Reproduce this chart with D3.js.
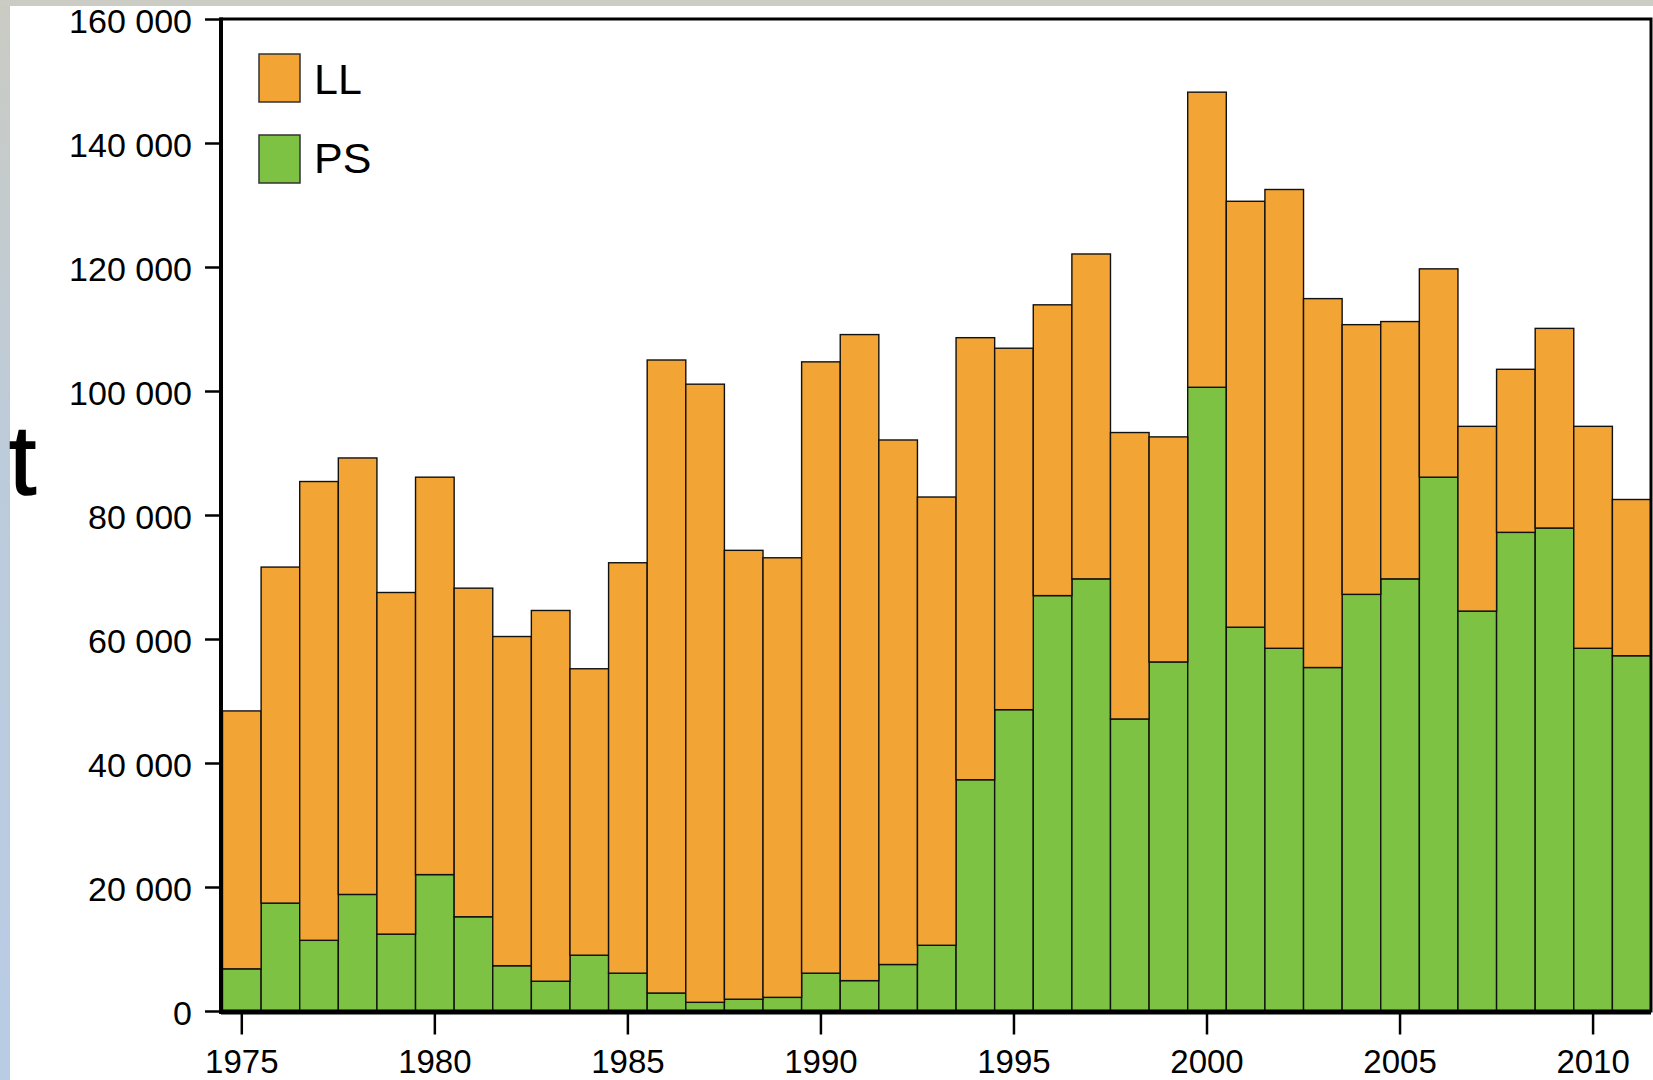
<!DOCTYPE html>
<html lang="en">
<head>
    <meta charset="UTF-8">
    <title>Captures LL / PS</title>
    <script src="https://d3js.org/d3.v7.min.js"></script>
    <style>
        body, html {
            margin: 0;
            background: #fff;
            font-family: "Liberation Sans", Arial, sans-serif;
        }
        svg { display: block; }
    </style>
</head>
<body>
<svg width="1653" height="1080"></svg>
<script>
    // annees et series (tonnes)
    const years = d3.range(1975, 2012);
    const totals = [48400, 71600, 85400, 89200, 67500, 86100, 68200, 60400, 64600, 55200,
                    72300, 105000, 101100, 74300, 73100, 104700, 109100, 92100, 82900, 108600,
                    106900, 113900, 122100, 93300, 92600, 148200, 130600, 132500, 114900, 110700,
                    111200, 119700, 94300, 103500, 110100, 94300, 82500];
    const ps = [6800, 17400, 11400, 18800, 12400, 22000, 15200, 7300, 4800, 9000,
                6100, 2900, 1400, 1900, 2200, 6100, 4900, 7500, 10600, 37300,
                48600, 67000, 69700, 47100, 56300, 100600, 61900, 58500, 55400, 67200,
                69700, 86100, 64500, 77200, 77900, 58500, 57300];
    const ll = totals.map((t, i) => t - ps[i]);
    const seriesNames = ["PS", "LL"];
    const colors = { LL: "#f2a535", PS: "#7dc242" };
    const yTicks = [0, 20000, 40000, 60000, 80000, 100000, 120000, 140000, 160000];
    const xTicks = [1975, 1980, 1985, 1990, 1995, 2000, 2005, 2010];

    const svg = d3.select("svg");

    // bandeaux du cadre (gris en haut, degrade a gauche)
    const defs = svg.append("defs");
    const grad = defs.append("linearGradient").attr("id", "side").attr("x1", 0).attr("y1", 0).attr("x2", 0).attr("y2", 1);
    grad.append("stop").attr("offset", "0%").attr("stop-color", "#cacbc3");
    grad.append("stop").attr("offset", "45%").attr("stop-color", "#bccbdc");
    grad.append("stop").attr("offset", "100%").attr("stop-color", "#b8cce4");
    svg.append("rect").attr("x", 0).attr("y", 0).attr("width", 10).attr("height", 1080).attr("fill", "url(#side)");
    svg.append("rect").attr("x", 0).attr("y", 0).attr("width", 1653).attr("height", 6).attr("fill", "#cbccc4");

    const mLeft = 221, mRight = 1651, mTop = 19, mBottom = 1011;

    const x = d3.scaleBand().domain(years).range([mLeft + 1.5, mRight]).padding(0);
    const y = d3.scaleLinear().domain([0, 160000]).range([mBottom, mTop]);

    const table = years.map((yr, i) => ({ year: yr, LL: ll[i], PS: ps[i] }));
    const stack = d3.stack().keys(seriesNames)(table);

    svg.append("g")
       .selectAll("g")
       .data(stack)
       .enter().append("g")
       .attr("fill", d => colors[d.key])
       .selectAll("rect")
       .data(d => d)
       .enter().append("rect")
       .attr("x", d => x(d.data.year))
       .attr("y", d => y(d[1]))
       .attr("width", x.bandwidth())
       .attr("height", d => y(d[0]) - y(d[1]))
       .attr("stroke", "#111")
       .attr("stroke-width", 1.4);

    // cadre
    svg.append("rect")
       .attr("x", mLeft).attr("y", mTop)
       .attr("width", mRight - mLeft).attr("height", mBottom - mTop)
       .attr("fill", "none").attr("stroke", "#000").attr("stroke-width", 3);

    const fmt = d3.formatLocale({ decimal: ",", thousands: " ", grouping: [3], currency: ["", ""] }).format(",");

    // axe y
    const yAxis = svg.append("g")
       .attr("transform", `translate(${mLeft},0)`)
       .call(d3.axisLeft(y).tickValues(yTicks).tickFormat(fmt).tickSize(16).tickPadding(13));
    yAxis.select(".domain").remove();
    yAxis.selectAll("line").attr("stroke", "#000").attr("stroke-width", 2.5);
    yAxis.selectAll("text")
         .attr("font-family", "Liberation Sans, Arial, sans-serif")
         .attr("font-size", 34).attr("fill", "#000").attr("dy", "0.4em");

    // axe x
    const xAxis = svg.append("g")
       .attr("transform", `translate(0,${mBottom + 1.5})`)
       .call(d3.axisBottom(x).tickValues(xTicks).tickSize(22).tickPadding(15));
    xAxis.select(".domain").attr("stroke", "#000").attr("stroke-width", 4)
         .attr("d", `M${mLeft},0H${mRight}`);
    xAxis.selectAll("line").attr("stroke", "#000").attr("stroke-width", 2.5);
    xAxis.selectAll("text")
         .attr("font-family", "Liberation Sans, Arial, sans-serif")
         .attr("font-size", 33).attr("fill", "#000");

    svg.append("line").attr("x1", mLeft).attr("x2", mLeft).attr("y1", mTop - 1.5).attr("y2", mBottom + 3)
       .attr("stroke", "#000").attr("stroke-width", 4);

    // legende
    const legend = svg.append("g");
    ["LL", "PS"].forEach((k, i) => {
        legend.append("rect")
              .attr("x", 259).attr("y", 54 + i * 81)
              .attr("width", 41).attr("height", 48)
              .attr("fill", colors[k]).attr("stroke", "#333").attr("stroke-width", 1.5);
        legend.append("text")
              .attr("x", 314).attr("y", 94 + i * 79)
              .attr("font-size", 43).attr("fill", "#000")
              .text(k);
    });

    // titre axe y
    svg.append("text")
       .attr("x", 9).attr("y", 494)
       .attr("font-size", 98).attr("fill", "#000")
       .attr("stroke", "#000").attr("stroke-width", 1.5)
       .text("t");
</script>
</body>
</html>
